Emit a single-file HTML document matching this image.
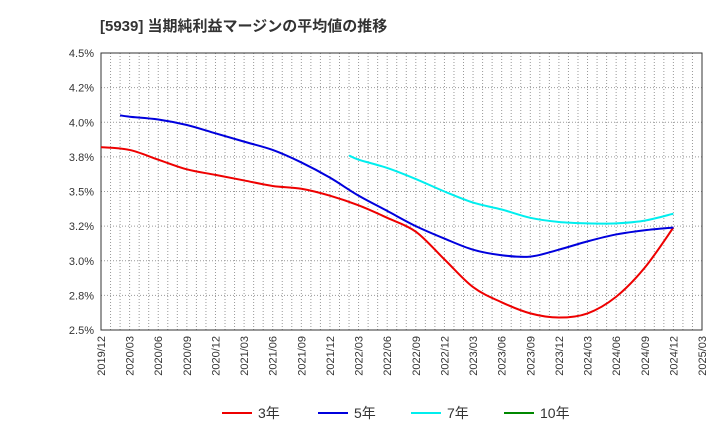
<!DOCTYPE html>
<html><head><meta charset="utf-8"><style>
body{margin:0;background:#fff;font-family:"Liberation Sans","Noto Sans CJK JP",sans-serif}
</style></head><body>
<svg id="c" width="720" height="440" xmlns="http://www.w3.org/2000/svg">
<text x="100" y="31" font-size="15" font-weight="bold" fill="#333">[5939]  当期純利益マージンの平均値の推移</text>
<g id="grid"></g><g id="axes"></g><g id="series"></g><g id="legend"></g>
</svg>
<script>
const categories=["2019/12","2020/03","2020/06","2020/09","2020/12","2021/03","2021/06","2021/09","2021/12","2022/03","2022/06","2022/09","2022/12","2023/03","2023/06","2023/09","2023/12","2024/03","2024/06","2024/09","2024/12","2025/03"];
const yTicks=[2.5,2.75,3.0,3.25,3.5,3.75,4.0,4.25,4.5];
const yTickLabels=["2.5%","2.8%","3.0%","3.2%","3.5%","3.8%","4.0%","4.2%","4.5%"];
const s3=[3.82,3.80,3.73,3.66,3.62,3.58,3.54,3.52,3.47,3.40,3.31,3.21,3.01,2.81,2.70,2.62,2.59,2.62,2.74,2.95,3.24,null];
const s5=[null,4.04,4.02,3.98,3.92,3.86,3.80,3.71,3.60,3.47,3.36,3.25,3.16,3.08,3.04,3.03,3.08,3.14,3.19,3.22,3.24,null];
const s7=[null,null,null,null,null,null,null,null,null,3.73,3.67,3.59,3.50,3.42,3.37,3.31,3.28,3.27,3.27,3.29,3.34,null];
const s10=[];
// first values (one month before first quarter point)
const s5Lead=[4.05];
const s7Lead=[3.76];
const L=101,R=702,T=53,B=330,NS="http://www.w3.org/2000/svg";
const xm=m=>L+(R-L)*m/63;
const xq=i=>xm(i*3);
const y=v=>B-(v-2.5)/2*(B-T);
function mk(t,a,p){const e=document.createElementNS(NS,t);for(const k in a)e.setAttribute(k,a[k]);p.appendChild(e);return e;}
const g=document.getElementById('grid'),ax=document.getElementById('axes');
for(let m=1;m<63;m++){const l=mk('line',{x1:xm(m),x2:xm(m),y1:T,y2:B,stroke:'#999','stroke-dasharray':'1,2','stroke-width':1},g);

}
yTicks.forEach((v,i)=>{const l=mk('line',{x1:L,x2:R,y1:y(v),y2:y(v),stroke:'#999','stroke-dasharray':'1,2'},g);


const t=mk('text',{x:L-7,y:y(v)+4,'text-anchor':'end','font-size':11,fill:'#333'},ax);t.textContent=yTickLabels[i];

});
categories.forEach((c,i)=>{const x=xq(i);const t=mk('text',{transform:`translate(${x+4},${B+6}) rotate(-90)`,'text-anchor':'end','font-size':11,fill:'#333'},ax);t.textContent=c;

});
const fr=mk('rect',{x:L,y:T,width:R-L,height:B-T,fill:'none',stroke:'#333'},ax);


function path(arr,lead){const p=[];let first=-1;arr.forEach((v,i)=>{if(v!=null){if(first<0)first=i;p.push([xq(i),y(v)]);}});
if(lead&&lead.length&&first>=0)p.unshift([xm(first*3-1),y(lead[0])]);
if(p.length<2)return'';
let d=`M${p[0][0]},${p[0][1]}`;for(let i=0;i<p.length-1;i++){const p0=p[i-1]||p[i],p1=p[i],p2=p[i+1],p3=p[i+2]||p2;
d+=` C${p1[0]+(p2[0]-p0[0])/6},${p1[1]+(p2[1]-p0[1])/6} ${p2[0]-(p3[0]-p1[0])/6},${p2[1]-(p3[1]-p1[1])/6} ${p2[0]},${p2[1]}`;}return d;}
const sg=document.getElementById('series');
[[s3,null,'#e00','series-3yr'],[s5,s5Lead,'#00d','series-5yr'],[s7,s7Lead,'#0ee','series-7yr'],[s10,null,'#080','series-10yr']].forEach(([a,ld,c,n])=>{const d=path(a,ld);if(!d)return;
const p=mk('path',{d,fill:'none',stroke:c,'stroke-width':2},sg);

});
const lg=document.getElementById('legend');
[['3年','#e00',222],['5年','#00d',318],['7年','#0ee',411],['10年','#080',504]].forEach(([t,c,x])=>{
const e=mk('g',{},lg);


mk('line',{x1:x,x2:x+30,y1:413,y2:413,stroke:c,'stroke-width':2},e);
const tx=mk('text',{x:x+36,y:418,'font-size':14,fill:'#333'},e);tx.textContent=t;});
</script>
</body></html>
